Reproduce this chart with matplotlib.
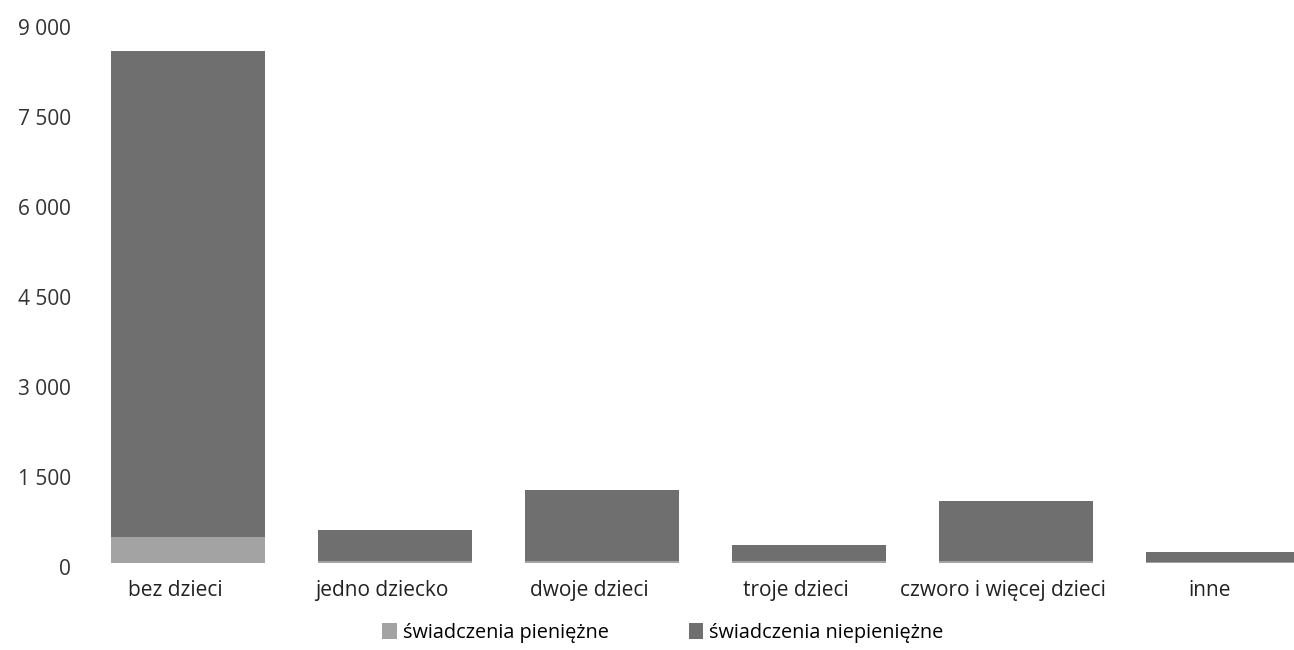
import matplotlib.pyplot as plt
import matplotlib.transforms as mtransforms
import numpy as np

plt.rcParams['font.family'] = ['Open Sans', 'DejaVu Sans']

categories = ['bez dzieci', 'jedno dziecko', 'dwoje dzieci', 'troje dzieci',
              'czworo i więcej dzieci', 'inne']
pieniezne = [440, 40, 40, 30, 40, 20]
niepieniezne = [8090, 510, 1170, 270, 990, 160]
series_names = ['świadczenia pieniężne', 'świadczenia niepieniężne']
yticks = [0, 1500, 3000, 4500, 6000, 7500, 9000]
ytick_labels = ['0', '1 500', '3 000', '4 500', '6 000', '7 500', '9 000']

light = '#a3a3a3'
dark = '#6f6f6f'

fig = plt.figure(figsize=(12.94, 6.5), dpi=100)
ax = fig.add_axes([85 / 1294, 87 / 650, 1209 / 1294, 558 / 650])

x = np.arange(len(categories))
ax.bar(x, pieniezne, width=0.74, color=light, label=series_names[0])
ax.bar(x, niepieniezne, width=0.74, bottom=pieniezne, color=dark,
       label=series_names[1])

ax.set_xlim(-0.4976, 5.343)
ax.set_ylim(0, 9300)

ax.set_yticks(yticks)
ax.set_yticklabels(ytick_labels, fontsize=15, color='#333333')
ax.set_xticks(x)
ax.set_xticklabels(categories, fontsize=15, color='#222222')
ax.tick_params(axis='y', length=0, pad=10)
ax.tick_params(axis='x', length=0, pad=12)

# the scanned labels sit a bit off the marks
for lab in ax.get_yticklabels():
    lab.set_transform(lab.get_transform() + mtransforms.ScaledTranslation(0, -4 / 100, fig.dpi_scale_trans))
for lab in ax.get_xticklabels():
    lab.set_transform(lab.get_transform() + mtransforms.ScaledTranslation(-13 / 100, 0, fig.dpi_scale_trans))

for s in ax.spines.values():
    s.set_visible(False)

fig.legend(loc='center', bbox_to_anchor=(663 / 1294, 1 - 633 / 650), ncol=2,
           frameon=False, fontsize=14.3, handlelength=0.75, handleheight=0.85,
           handletextpad=0.3, columnspacing=4.0)

fig.savefig('out.png', dpi=100)
